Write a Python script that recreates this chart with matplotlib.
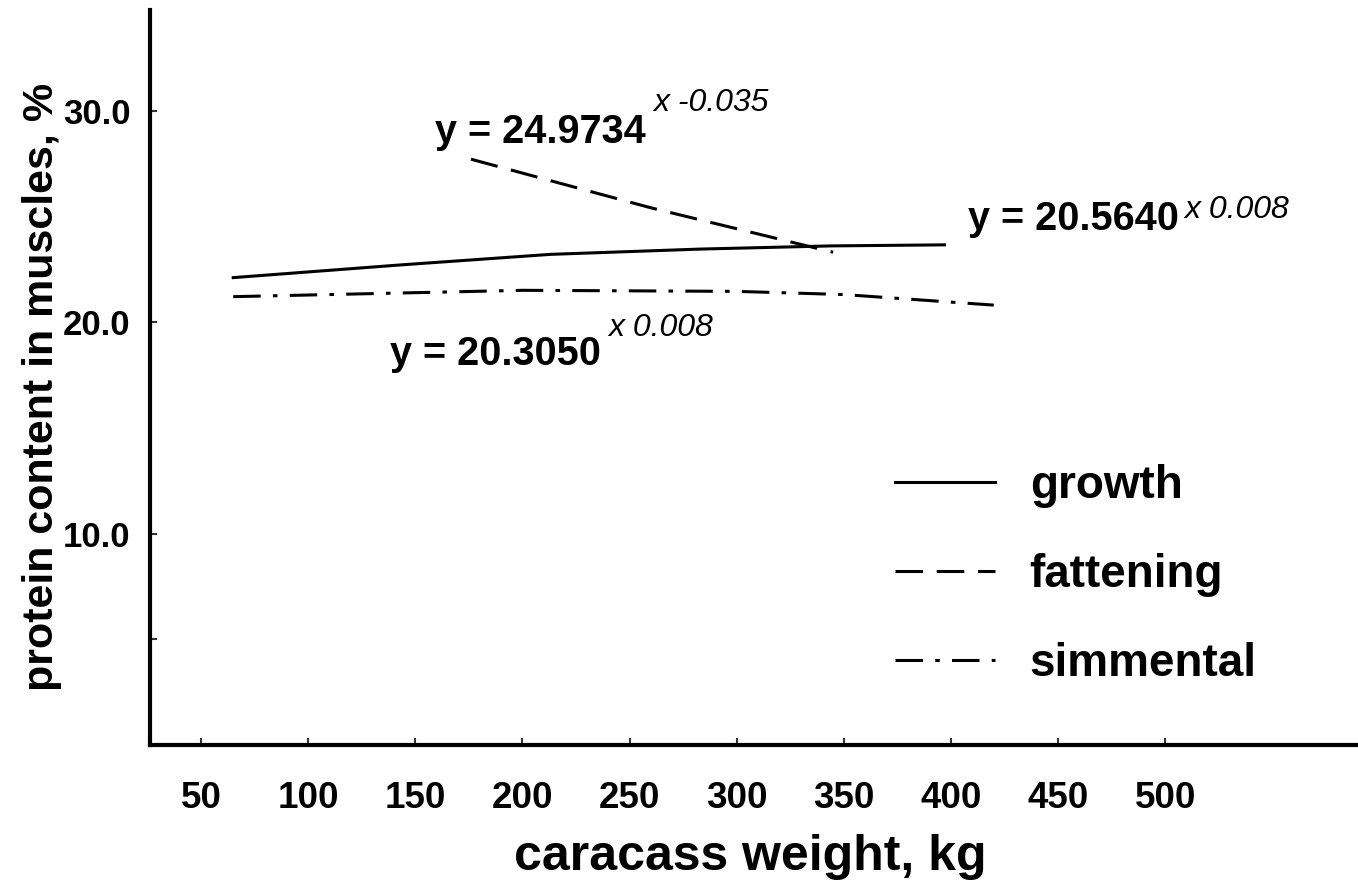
import matplotlib
matplotlib.use("Agg")
import matplotlib.pyplot as plt

# values
growth_x = [65, 143, 213, 283, 344, 397]
growth_y = [22.1, 22.7, 23.2, 23.45, 23.6, 23.65]

fattening_x = [176, 260, 345]
fattening_y = [27.7, 25.4, 23.3]

simmental_x = [65, 200, 300, 350, 420]
simmental_y = [21.2, 21.5, 21.45, 21.3, 20.8]

x_ticks = [50, 100, 150, 200, 250, 300, 350, 400, 450, 500]
y_ticks = [5, 10, 20, 30]
y_tick_labels = ["", "10.0", "20.0", "30.0"]

font = ["Liberation Sans", "DejaVu Sans"]

fig = plt.figure(figsize=(13.58, 8.93), dpi=100)
ax = fig.add_axes([0.1105, 0.1657, 0.8895, 0.823])

ax.plot(growth_x, growth_y, color="black", lw=2.2, label="growth")
ax.plot(fattening_x, fattening_y, color="black", lw=2.2, dashes=(9, 4.5), label="fattening")
ax.plot(simmental_x, simmental_y, color="black", lw=2.2, dashes=(9, 4, 1.5, 4), label="simmental")

ax.set_xlim(26.2, 590)
ax.set_ylim(0, 34.75)

for s in ["top", "right"]:
    ax.spines[s].set_visible(False)
for s in ["left", "bottom"]:
    ax.spines[s].set_linewidth(3)

ax.set_xticks(x_ticks)
ax.set_xticklabels([str(v) for v in x_ticks], family=font, weight="bold", fontsize=26.5)
ax.set_yticks(y_ticks)
ax.set_yticklabels(y_tick_labels, family=font, weight="bold", fontsize=25)
ax.tick_params(direction="in", length=5, width=1.5, color="#333333")
ax.tick_params(axis="x", pad=26)
ax.tick_params(axis="y", pad=14)

ax.set_xlabel("caracass weight, kg", family=font, weight="bold", fontsize=36)
ax.set_ylabel("protein content in muscles, %", family=font, weight="bold", fontsize=31)
ax.xaxis.set_label_coords(0.4967, -0.121)
ax.yaxis.set_label_coords(-0.073, 0.487)

# equations
eq = dict(family=font, weight="bold", fontsize=28.5, va="baseline")
sup = dict(family=font, style="italic", fontsize=23, va="baseline")
ax.text(159, 28.46, "y = 24.9734", **eq)
ax.text(261, 30.0, "x -0.035", **sup)
ax.text(408, 24.35, "y = 20.5640", **eq)
ax.text(509, 24.9, "x 0.008", **sup)
ax.text(138, 17.97, "y = 20.3050", **eq)
ax.text(240, 19.34, "x 0.008", **sup)

ax.legend(loc="upper left", bbox_to_anchor=(0.659, 0.4800), bbox_transform=fig.transFigure,
          frameon=False, handlelength=2.18, handletextpad=0.76, labelspacing=0.98,
          borderpad=0, borderaxespad=0,
          prop={"family": font, "weight": "bold", "size": 33})

fig.savefig("out.png", dpi=100)
